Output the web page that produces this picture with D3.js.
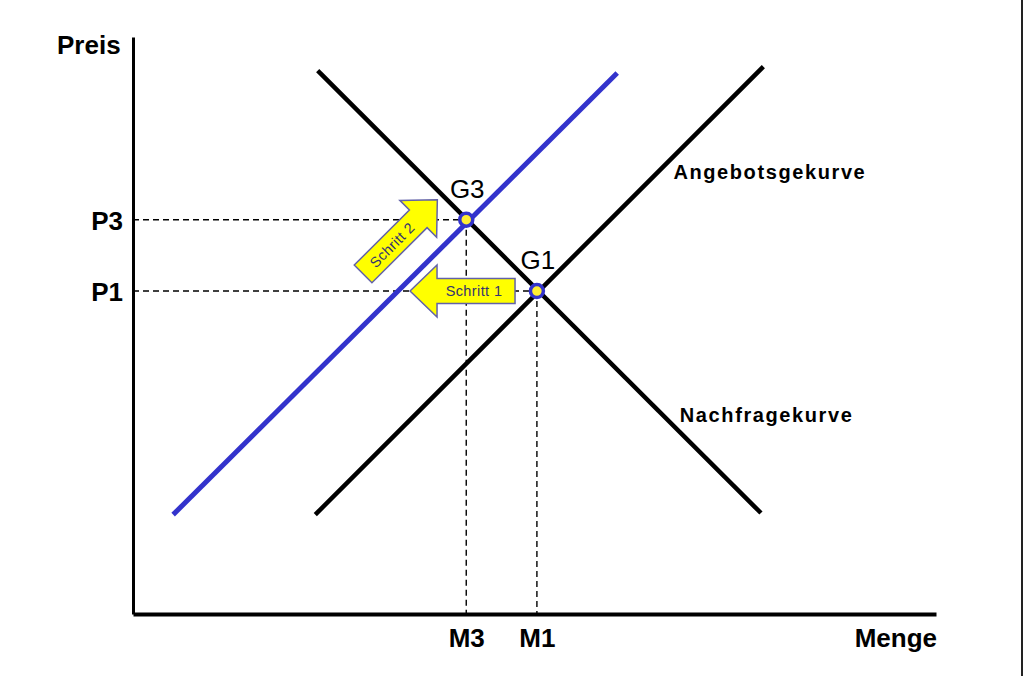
<!DOCTYPE html>
<html>
<head>
<meta charset="utf-8">
<script src="https://cdn.jsdelivr.net/npm/d3@7"></script>
<style>
  html, body { margin: 0; padding: 0; background: #fff; }
  svg { display: block; }
  text { font-family: "Liberation Sans", Arial, sans-serif; }
</style>
</head>
<body>
<svg id="chart" width="1024" height="676"></svg>
<script>
// ---- data (quantity / price units) ----
const curveNames   = ["Angebotsgekurve", "Nachfragekurve", "Angebot neu"];
const curveQ       = [[22.7, 78.5], [23.0, 78.2], [5.0, 60.3]];
const curveP       = [[12.4, 68.3], [67.8, 12.6], [12.4, 67.5]];
const pointNames   = ["G1", "G3"];
const pointQ       = [50.3, 41.5];
const pointP       = [40.3, 49.2];
const priceLabels  = ["P1", "P3"];
const qtyLabels    = ["M1", "M3"];
const stepNames    = ["Schritt 1", "Schritt 2"];
const stepTipQ     = [34.5, 37.9];
const stepTipP     = [40.3, 51.7];
const stepAngle    = [180, -45];
const curveLabelNames = ["Angebotsgekurve", "Nachfragekurve"];
const curveLabelQ  = [67.3, 68.1];
const curveLabelP  = [54.3, 24.0];

const svg = d3.select("#chart");
const x = d3.scaleLinear().domain([0, 100]).range([133, 936]);
const y = d3.scaleLinear().domain([0, 72]).range([614, 37]);

// right border of the picture
svg.append("line").attr("x1", 1022).attr("x2", 1022).attr("y1", 0).attr("y2", 676)
  .attr("stroke", "#222").attr("stroke-width", 2);

// dashed guide lines
const g = svg.append("g");
pointNames.forEach((n, i) => {
  g.append("line").attr("x1", x(0)).attr("x2", x(pointQ[i]))
    .attr("y1", y(pointP[i])).attr("y2", y(pointP[i]))
    .attr("stroke", "#000").attr("stroke-width", 1.4).attr("stroke-dasharray", "6,4");
  g.append("line").attr("x1", x(pointQ[i])).attr("x2", x(pointQ[i]))
    .attr("y1", y(pointP[i])).attr("y2", y(0))
    .attr("stroke", "#000").attr("stroke-width", 1.4).attr("stroke-dasharray", "6,4");
});

// axes
const yAxis = d3.axisLeft(y).tickValues(pointP).tickFormat((d, i) => priceLabels[i])
  .tickSize(0).tickPadding(10);
const xAxis = d3.axisBottom(x).tickValues(pointQ).tickFormat((d, i) => qtyLabels[i])
  .tickSize(0).tickPadding(14);
const ya = svg.append("g").attr("transform", `translate(${x(0)},0)`).call(yAxis);
const xa = svg.append("g").attr("transform", `translate(0,${y(0)})`).call(xAxis);
[ya, xa].forEach(a => {
  a.selectAll("text").attr("font-size", 26).attr("font-weight", "bold").attr("fill", "#000")
    .style("font-family", "'Liberation Sans', Arial, sans-serif");
});
ya.select(".domain").attr("stroke", "#000").attr("stroke-width", 3);
xa.select(".domain").attr("stroke", "#000").attr("stroke-width", 4);
ya.selectAll(".tick text").attr("dy", "0.36em");
xa.selectAll(".tick text").attr("dy", "0.72em");

// curves
const line = d3.line().x(d => x(d[0])).y(d => y(d[1]));
const curveColors = ["#000", "#000", "#3333cc"];
curveNames.forEach((n, i) => {
  svg.append("path")
    .attr("d", line(curveQ[i].map((q, j) => [q, curveP[i][j]])))
    .attr("stroke", curveColors[i]).attr("stroke-width", i === 2 ? 5 : 4.5)
    .attr("fill", "none");
});

// axis titles
svg.append("text").attr("x", 57).attr("y", 54).text("Preis")
  .attr("font-size", 26).attr("font-weight", "bold");
svg.append("text").attr("x", 937).attr("y", 647).attr("text-anchor", "end").text("Menge")
  .attr("font-size", 26).attr("font-weight", "bold");

// curve labels
curveLabelNames.forEach((n, i) => {
  svg.append("text").attr("x", x(curveLabelQ[i])).attr("y", y(curveLabelP[i]))
    .text(n).attr("font-size", 20).attr("font-weight", "bold").attr("letter-spacing", 1.6);
});

// step arrows
const bodyHalf = 12.5, headHalf = 26, headLen = 27, totalLen = 105;
const arrowShape = [
  [0, 0], [headLen, -headHalf], [headLen, -bodyHalf], [totalLen, -bodyHalf],
  [totalLen, bodyHalf], [headLen, bodyHalf], [headLen, headHalf]
];
stepNames.forEach((n, i) => {
  const ag = svg.append("g")
    .attr("transform", `translate(${x(stepTipQ[i])},${y(stepTipP[i])}) rotate(${stepAngle[i] + 180})`);
  ag.append("path").attr("d", "M" + arrowShape.join("L") + "Z")
    .attr("fill", "#ffff00").attr("stroke", "#6262a8").attr("stroke-width", 1.5)
    .attr("stroke-linejoin", "miter");
  const cx = (headLen + totalLen) / 2 - 2;
  ag.append("text").attr("x", cx).attr("y", 0).attr("dy", "0.36em")
    .attr("text-anchor", "middle").attr("font-size", 14.5).attr("letter-spacing", 0.4)
    .attr("fill", "#333370")
    .attr("transform", stepAngle[i] === 180 ? null : `rotate(180,${cx},0)`)
    .text(n);
});

// equilibrium points & labels
pointNames.forEach((n, i) => {
  svg.append("circle").attr("cx", x(pointQ[i])).attr("cy", y(pointP[i])).attr("r", 6.5)
    .attr("fill", "#ffee33").attr("stroke", "#3333cc").attr("stroke-width", 3.5);
  svg.append("text").attr("x", x(pointQ[i]) + 1).attr("y", y(pointP[i]) - 22)
    .attr("text-anchor", "middle").attr("font-size", 26).text(n);
});
</script>
</body>
</html>
